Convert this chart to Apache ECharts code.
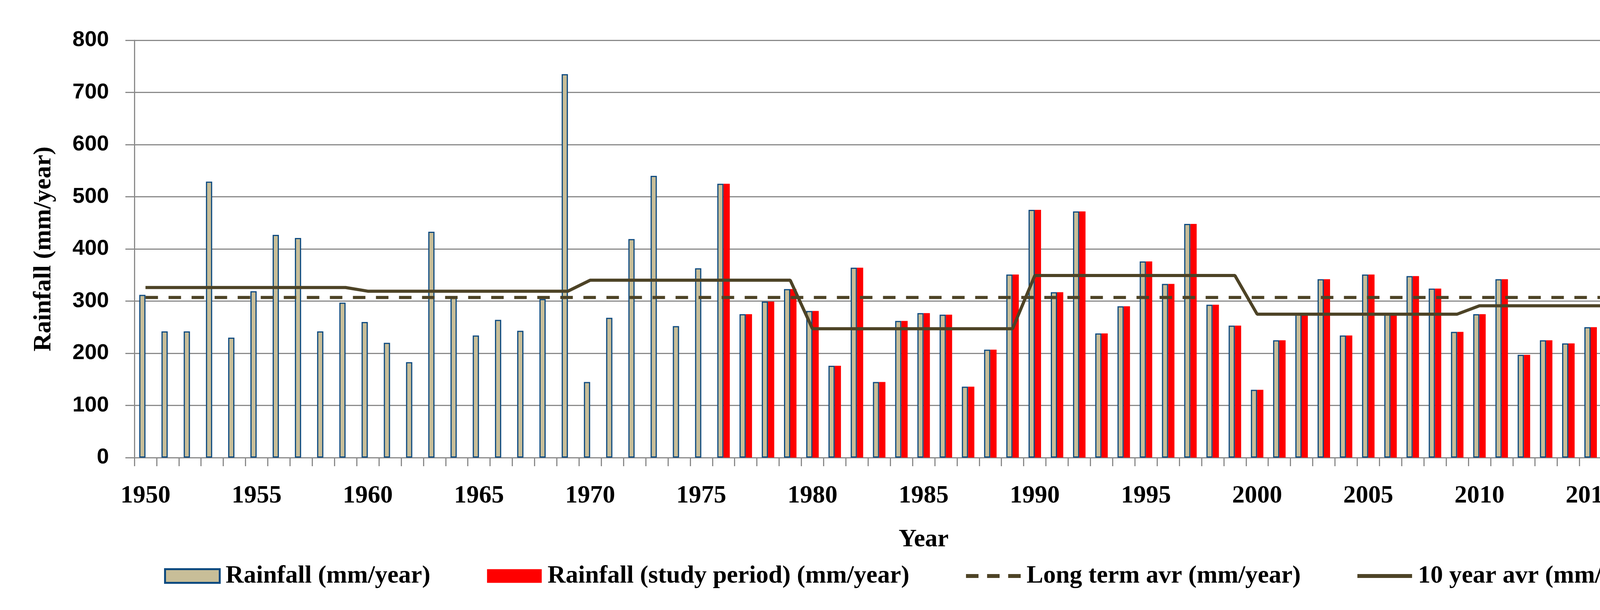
<!DOCTYPE html>
<html>
<head>
<meta charset="utf-8">
<script src="https://cdn.jsdelivr.net/npm/echarts@6/dist/echarts.min.js"></script>
<style>
html,body{margin:0;padding:0;background:#fff;}
#chart{width:4485px;height:1561px;}
</style>
</head>
<body>
<div id="chart"></div>
<script>
const years = ['1950','1951','1952','1953','1954','1955','1956','1957','1958','1959',
  '1960','1961','1962','1963','1964','1965','1966','1967','1968','1969',
  '1970','1971','1972','1973','1974','1975','1976','1977','1978','1979',
  '1980','1981','1982','1983','1984','1985','1986','1987','1988','1989',
  '1990','1991','1992','1993','1994','1995','1996','1997','1998','1999',
  '2000','2001','2002','2003','2004','2005','2006','2007','2008','2009',
  '2010','2011','2012','2013','2014','2015','2016','2017','2018','2019','2020'];

const rainfall = [312,242,242,529,230,319,427,421,242,297,
  260,220,183,433,309,234,264,243,304,735,
  145,268,419,540,252,363,525,275,299,323,
  281,176,364,145,262,277,274,136,207,351,
  475,317,472,238,290,376,333,448,293,253,
  130,225,277,342,234,351,276,348,324,241,
  275,342,197,225,219,250,262,154,397,462,422];

const rainfallStudy = [null,null,null,null,null,null,null,null,null,null,
  null,null,null,null,null,null,null,null,null,null,
  null,null,null,null,null,null,525,275,299,323,
  281,176,364,145,262,277,274,136,207,351,
  475,317,472,238,290,376,333,448,293,253,
  130,225,277,342,234,351,276,348,324,241,
  275,342,197,225,219,250,262,154,null,null,null];

const longTermAvg = [307,307,307,307,307,307,307,307,307,307,
  307,307,307,307,307,307,307,307,307,307,
  307,307,307,307,307,307,307,307,307,307,
  307,307,307,307,307,307,307,307,307,307,
  307,307,307,307,307,307,307,307,307,307,
  307,307,307,307,307,307,307,307,307,307,
  307,307,307,307,307,307,307,307,307,307,307];

const tenYearAvg = [326,326,326,326,326,326,326,326,326,326,
  319,319,319,319,319,319,319,319,319,319,
  340,340,340,340,340,340,340,340,340,340,
  247,247,247,247,247,247,247,247,247,247,
  349,349,349,349,349,349,349,349,349,349,
  275,275,275,275,275,275,275,275,275,275,
  291,291,291,291,291,291,291,291,291,291,291];

const yTicks = {min: 0, max: 800, interval: 100};

const serif = '"Liberation Serif", "Times New Roman", serif';
const sans = '"Liberation Sans", Arial, sans-serif';
const gridGray = '#8a8a8a';
const olive = '#4d4326';
const tan = '#c8be98';
const barBlue = '#0d4a80';

const dashIcon = 'path://M0,0h32v10h-32z M54,0h32v10h-32z M108,0h32v10h-32z';
const solidIcon = 'path://M0,0h140v10h-140z';

const chart = echarts.init(document.getElementById('chart'), null, {renderer: 'canvas'});
chart.setOption({
  animation: false,
  backgroundColor: '#ffffff',
  grid: {left: 344, right: 100, top: 103, bottom: 390, containLabel: false},
  legend: {
    top: 1437,
    left: 415,
    itemWidth: 140,
    itemHeight: 35,
    itemGap: 145,
    textStyle: {fontFamily: serif, fontWeight: 'bold', fontSize: 64, color: '#000', padding: [0,0,0,10]},
    data: [
      {name: 'Rainfall (mm/year)', icon: 'rect', itemStyle: {color: tan, borderColor: barBlue, borderWidth: 5}},
      {name: 'Rainfall (study period) (mm/year)', icon: 'rect', itemStyle: {color: '#ff0000', borderWidth: 0}},
      {name: 'Long term avr (mm/year)', icon: dashIcon, itemStyle: {color: olive, borderWidth: 0}},
      {name: '10 year avr (mm/year)', icon: solidIcon, itemStyle: {color: olive, borderWidth: 0}}
    ]
  },
  xAxis: {
    type: 'category',
    data: years,
    boundaryGap: true,
    name: 'Year',
    nameLocation: 'middle',
    nameGap: 178,
    nameTextStyle: {fontFamily: serif, fontWeight: 'bold', fontSize: 64, color: '#000'},
    axisLine: {show: true, lineStyle: {color: gridGray, width: 3}},
    axisTick: {show: true, interval: 0, length: 22, lineStyle: {color: gridGray, width: 3}},
    axisLabel: {interval: 4, margin: 66, fontFamily: serif, fontWeight: 'bold', fontSize: 64, color: '#000'},
    splitLine: {show: false}
  },
  yAxis: {
    type: 'value',
    min: yTicks.min, max: yTicks.max, interval: yTicks.interval,
    name: 'Rainfall (mm/year)',
    nameLocation: 'middle',
    nameGap: 200,
    nameRotate: 90,
    nameTextStyle: {fontFamily: serif, fontWeight: 'bold', fontSize: 64, color: '#000'},
    axisLine: {show: true, lineStyle: {color: gridGray, width: 3}},
    axisTick: {show: true, length: 23, lineStyle: {color: gridGray, width: 3}},
    axisLabel: {margin: 65, fontFamily: sans, fontWeight: 'bold', fontSize: 56, color: '#000'},
    splitLine: {show: true, lineStyle: {color: gridGray, width: 3}}
  },
  series: [
    {
      name: 'Rainfall (mm/year)',
      type: 'bar',
      data: rainfall,
      barWidth: 16,
      barGap: '0%',
      itemStyle: {color: tan, borderColor: barBlue, borderWidth: 3},
      z: 2
    },
    {
      name: 'Rainfall (study period) (mm/year)',
      type: 'bar',
      data: rainfallStudy,
      barWidth: 16,
      barGap: '0%',
      itemStyle: {color: '#ff0000'},
      z: 2
    },
    {
      name: 'Long term avr (mm/year)',
      type: 'line',
      data: longTermAvg,
      symbol: 'none',
      lineStyle: {color: olive, width: 8, type: [32, 27]},
      itemStyle: {color: olive},
      z: 5
    },
    {
      name: '10 year avr (mm/year)',
      type: 'line',
      data: tenYearAvg,
      symbol: 'none',
      lineStyle: {color: olive, width: 8},
      itemStyle: {color: olive},
      z: 6
    }
  ]
});
</script>
</body>
</html>
